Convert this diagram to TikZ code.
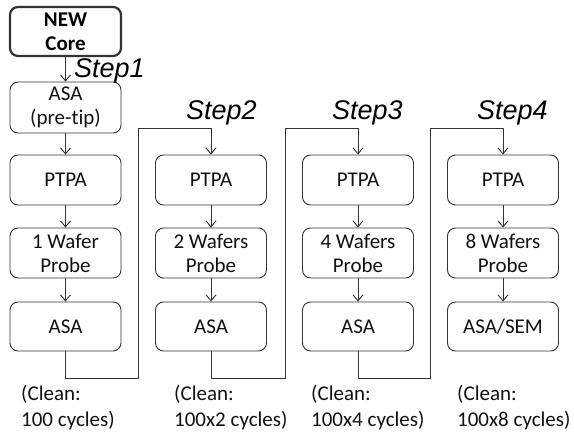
\documentclass[tikz,border=0pt]{standalone}
\usepackage{fontspec}
\setmainfont{Carlito}[Ligatures=NoCommon]
\newfontfamily\stepfont{Liberation Sans}
\usetikzlibrary{arrows.meta}
\definecolor{txt}{HTML}{111111}
\definecolor{ln}{HTML}{333333}
\begin{document}
\begin{tikzpicture}[x=1pt,y=-1pt,
  box/.style={draw=ln,line width=0.9pt,rounded corners=8pt,minimum width=111pt,minimum height=50pt,inner sep=0pt,align=center,text=txt,font=\fontsize{21}{24}\selectfont},
  corebox/.style={box,line width=2.2pt,font=\fontsize{21}{24}\selectfont\bfseries,text=black},
  arr/.style={draw=ln,line width=0.9pt,-{Straight Barb[length=6pt,width=10pt]}},
  steplbl/.style={anchor=west,inner sep=0pt,font=\fontsize{27}{30}\selectfont\stepfont\itshape,text=black},
  clean/.style={anchor=west,inner sep=0pt,align=left,text=txt,font=\fontsize{21}{26}\selectfont}]
\useasboundingbox (0,0) rectangle (574,434);
% column 1
\node[corebox,minimum height=49pt] (core) at (65.5,31.5) {NEW\\Core};
\node[box,minimum height=51pt] (pre) at (65.5,107.5) {ASA\\(pre-tip)};
\node[box] (ptpa1) at (65.5,180) {PTPA};
\node[box] (wp1) at (65.5,253) {1 Wafer\\Probe};
\node[box,minimum height=49pt] (asa1) at (65.5,326.5) {ASA};
% column 2
\node[box] (ptpa2) at (211,180) {PTPA};
\node[box] (wp2) at (211,253) {2 Wafers\\Probe};
\node[box,minimum height=49pt] (asa2) at (211,326.5) {ASA};
% column 3
\node[box] (ptpa3) at (358,180) {PTPA};
\node[box] (wp3) at (358,253) {4 Wafers\\Probe};
\node[box,minimum height=49pt] (asa3) at (358,326.5) {ASA};
% column 4
\node[box] (ptpa4) at (503,180) {PTPA};
\node[box] (wp4) at (503,253) {8 Wafers\\Probe};
\node[box,minimum height=49pt] (asa4) at (503,326.5) {ASA/SEM};
% vertical arrows
\draw[arr] (core) -- (pre);
\draw[arr] (pre) -- (ptpa1);
\draw[arr] (ptpa1) -- (wp1);
\draw[arr] (wp1) -- (asa1);
\draw[arr] (ptpa2) -- (wp2);
\draw[arr] (wp2) -- (asa2);
\draw[arr] (ptpa3) -- (wp3);
\draw[arr] (wp3) -- (asa3);
\draw[arr] (ptpa4) -- (wp4);
\draw[arr] (wp4) -- (asa4);
% loop connectors
\coordinate (k1a) at (138,378);
\coordinate (k1b) at (138,128);
\coordinate (k2a) at (285,378);
\coordinate (k2b) at (285,128);
\coordinate (k3a) at (430,378);
\coordinate (k3b) at (430,128);
\draw[arr] (asa1.south) |- (k1a) -- (k1b) -| (ptpa2.north);
\draw[arr] (asa2.south) |- (k2a) -- (k2b) -| (ptpa3.north);
\draw[arr] (asa3.south) |- (k3a) -- (k3b) -| (ptpa4.north);
% step labels
\node[steplbl] (s1) at (74,71) {Step1};
\node[steplbl] (s2) at (186,113) {Step2};
\node[steplbl] (s3) at (332,113) {Step3};
\node[steplbl] (s4) at (477,113) {Step4};
% clean labels
\node[clean] (c1) at (21,408) {(Clean:\\100 cycles)};
\node[clean] (c2) at (174,408) {(Clean:\\100x2 cycles)};
\node[clean] (c3) at (311,408) {(Clean:\\100x4 cycles)};
\node[clean] (c4) at (457,408) {(Clean:\\100x8 cycles)};
\end{tikzpicture}
\end{document}
